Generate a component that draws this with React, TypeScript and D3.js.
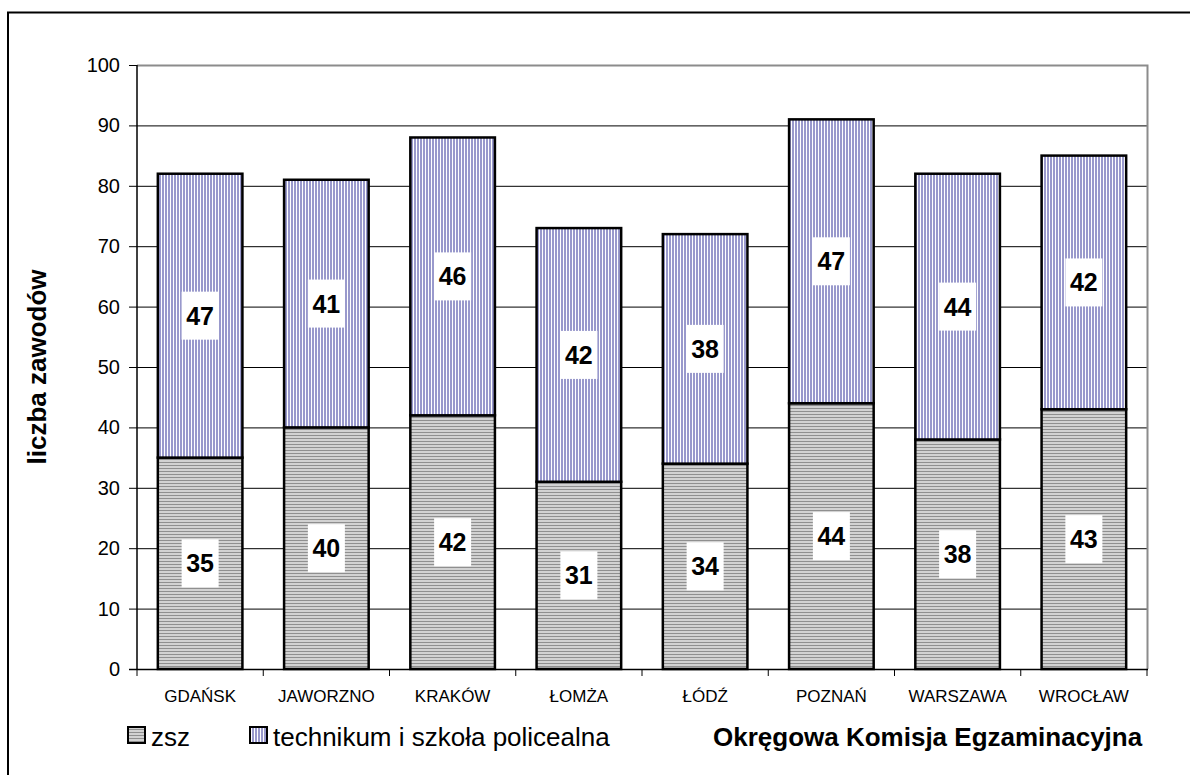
import React from "react";
import * as d3 from "d3";

const categories = ["GDAŃSK", "JAWORZNO", "KRAKÓW", "ŁOMŻA", "ŁÓDŹ", "POZNAŃ", "WARSZAWA", "WROCŁAW"];
const zsz = [35, 40, 42, 31, 34, 44, 38, 43];
const technikum = [47, 41, 46, 42, 38, 47, 44, 42];
const yTicks = [0, 10, 20, 30, 40, 50, 60, 70, 80, 90, 100];
const seriesNames = ["zsz", "technikum i szkoła policealna"];
const yTitle = "liczba zawodów";
const footer = "Okręgowa Komisja Egzaminacyjna";

const W = 1190, H = 775;
const L = 137, R = 1147, T = 65, B = 669;
const FONT = "'Liberation Sans', Arial, sans-serif";

export default function App() {
  const x = d3.scaleBand<string>().domain(categories).range([L, R]).paddingInner(0.33).paddingOuter(0.165);
  const y = d3.scaleLinear().domain([0, 100]).range([B, T]);
  const bw = x.bandwidth();
  const step = x.step();
  const rows = categories.map((c, i) => ({ c, a: zsz[i], b: technikum[i] }));

  const label = (cx: number, cy: number, v: number, key: string) => (
    <g key={key}>
      <rect x={cx - 18.5} y={cy - 24} width={37} height={48} fill="#fff" />
      <text x={cx} y={cy + 9} textAnchor="middle" fontFamily={FONT} fontWeight="bold" fontSize={25} fill="#000">{v}</text>
    </g>
  );

  return (
    <svg width={W} height={H} style={{ position: "absolute", left: 0, top: 0, background: "#fff" }}>
      <defs>
        <pattern id="pGrey" width={4} height={3} patternUnits="userSpaceOnUse">
          <rect width={4} height={3} fill="#d2d2d2" />
          <rect y={0} width={4} height={1} fill="#8f8f8f" />
        </pattern>
        <pattern id="pBlue" width={3} height={4} patternUnits="userSpaceOnUse">
          <rect width={3} height={4} fill="#9999cc" />
          <rect x={2} width={1} height={4} fill="#ffffff" />
        </pattern>
      </defs>
      <rect x={8} y={12.5} width={1300} height={900} fill="none" stroke="#000" strokeWidth={2} />

      {/* gridlines */}
      {yTicks.filter(t => t > 0 && t < 100).map(t => (
        <line key={t} x1={L} x2={R} y1={y(t) + 0.5} y2={y(t) + 0.5} stroke="#000" strokeWidth={1} />
      ))}
      {/* plot border top/right */}
      <polyline points={`${L},${T + 0.5} ${R + 0.5},${T + 0.5} ${R + 0.5},${B}`} fill="none" stroke="#8c8c8c" strokeWidth={2} />

      {/* bars */}
      {rows.map(r => {
        const x0 = x(r.c)!;
        return (
          <g key={r.c}>
            <rect x={x0} y={y(r.a)} width={bw} height={y(0) - y(r.a)} fill="url(#pGrey)" stroke="#000" strokeWidth={2.5} />
            <rect x={x0} y={y(r.a + r.b)} width={bw} height={y(r.a) - y(r.a + r.b)} fill="url(#pBlue)" stroke="#000" strokeWidth={2.5} />
          </g>
        );
      })}
      {rows.map(r => {
        const cx = x(r.c)! + bw / 2;
        return (
          <g key={"l" + r.c}>
            {label(cx, y(r.a / 2), r.a, "a")}
            {label(cx, y(r.a + r.b / 2), r.b, "b")}
          </g>
        );
      })}

      {/* axes */}
      <line x1={L} x2={L} y1={T} y2={B} stroke="#000" strokeWidth={1.5} />
      <line x1={L - 8} x2={R + 1} y1={B + 0.5} y2={B + 0.5} stroke="#000" strokeWidth={1.5} />
      {yTicks.map(t => (
        <g key={"t" + t}>
          <line x1={L - 8} x2={L} y1={y(t) + 0.5} y2={y(t) + 0.5} stroke="#000" strokeWidth={1} />
          <text x={L - 17} y={y(t) + 7} textAnchor="end" fontFamily={FONT} fontSize={20} fill="#000">{t}</text>
        </g>
      ))}
      {d3.range(categories.length + 1).map(i => (
        <line key={"x" + i} x1={L + i * step} x2={L + i * step} y1={B} y2={B + 7} stroke="#000" strokeWidth={1} />
      ))}
      {categories.map(c => (
        <text key={"c" + c} x={x(c)! + bw / 2} y={702} textAnchor="middle" fontFamily={FONT} fontSize={17} fill="#000">{c}</text>
      ))}

      {/* y title */}
      <text transform={`translate(46,${(T + B) / 2}) rotate(-90)`} textAnchor="middle" fontFamily={FONT} fontWeight="bold" fontSize={26} fill="#000">{yTitle}</text>

      {/* legend */}
      <rect x={128} y={727} width={17} height={16} fill="url(#pGrey)" stroke="#000" strokeWidth={2} />
      <text x={151} y={746} fontFamily={FONT} fontSize={26} fill="#000">{seriesNames[0]}</text>
      <rect x={250} y={727} width={17} height={16} fill="url(#pBlue)" stroke="#000" strokeWidth={2} />
      <text x={273} y={746} fontFamily={FONT} fontSize={26} fill="#000">{seriesNames[1]}</text>
      <text x={713} y={746} fontFamily={FONT} fontWeight="bold" fontSize={26} fill="#000">{footer}</text>
    </svg>
  );
}
